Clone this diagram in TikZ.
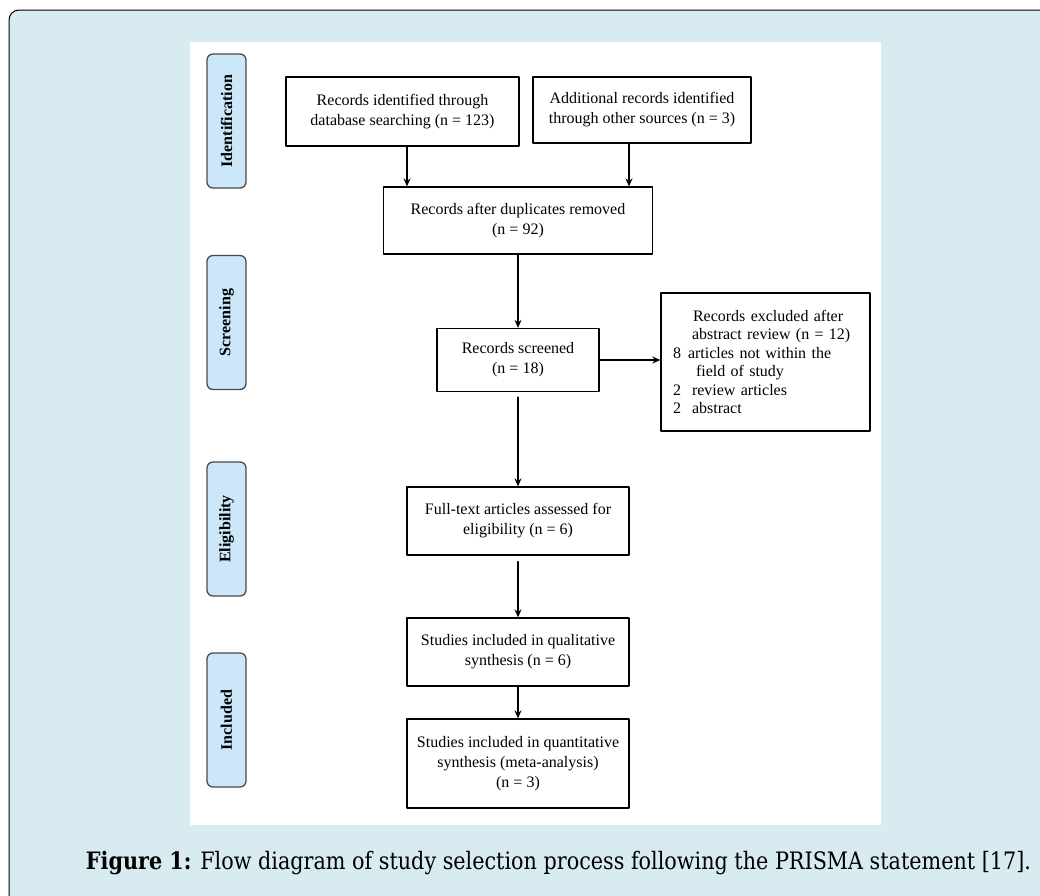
\documentclass[tikz,border=0pt]{standalone}
\usepackage{fontspec}
\usetikzlibrary{arrows.meta}
\setmainfont{Liberation Serif}
\newfontfamily\capfont{DejaVu Serif}
\definecolor{framebg}{HTML}{D7EBF0}
\definecolor{labelbg}{HTML}{CCE7F9}
\definecolor{labeledge}{HTML}{4A4A4A}
\begin{document}
\begin{tikzpicture}[x=1pt,y=-1pt,>={Stealth[length=8pt,width=7pt]},line join=round,line cap=round,
		box/.style={draw,line width=1.3pt,align=center,inner sep=2pt,font=\fontsize{16}{20}\selectfont},
		phase/.style={draw=labeledge,fill=labelbg,line width=1.3pt,rounded corners=6pt,minimum width=134pt,minimum height=39pt,rotate=90,font=\fontsize{16}{18}\selectfont\bfseries},
		link/.style={->,line width=1.6pt}]
	\useasboundingbox (0,0) rectangle (1040,895);
	\fill[white] (0,0) rectangle (1040,895);
	\draw[fill=framebg,line width=1pt,rounded corners=10pt] (9,10) rectangle (1060,915);
	\fill[white] (190,42) rectangle (881,825);
	% phases
	\node[phase] (lid) at (226.5,121) {Identification};
	\node[phase] (lscr) at (226.5,322.5) {Screening};
	\node[phase] (lelig) at (226.5,529) {Eligibility};
	\node[phase] (lincl) at (226.5,720) {Included};
	% boxes
	\node[box,minimum width=233pt,minimum height=69pt] (ident) at (402.5,111.5) {Records identified through\\database searching (n = 123)};
	\node[box,minimum width=218pt,minimum height=66pt] (other) at (642,110) {Additional records identified\\through other sources (n = 3)};
	\node[box,minimum width=269pt,minimum height=67pt] (dedup) at (518,220.5) {Records after duplicates removed\\(n = 92)};
	\node[box,minimum width=162pt,minimum height=63pt] (screen) at (518,360) {Records screened\\(n = 18)};
	\node[box,align=left,text width=185pt,inner xsep=12pt,minimum height=138pt,font=\fontsize{16}{18.5}\selectfont] (excl) at (765.5,362)
		{\hspace*{20pt}Records excluded after\\\hspace*{19pt}abstract review (n = 12)\\\makebox[15pt][l]{8}articles not within the\\\hspace*{23pt}field of study\\\makebox[19pt][l]{2}review articles\\\makebox[19pt][l]{2}abstract};
	\node[box,minimum width=222pt,minimum height=68pt] (full) at (518,521) {Full-text articles assessed for\\eligibility (n = 6)};
	\node[box,minimum width=222pt,minimum height=68pt] (qual) at (518,652) {Studies included in qualitative\\synthesis (n = 6)};
	\node[box,minimum width=222pt,minimum height=89pt] (quant) at (518,763.5) {Studies included in quantitative\\synthesis (meta-analysis)\\(n = 3)};
	% arrows
	\draw[link] ([xshift=4.5pt]ident.south) -- ([xshift=4.5pt]ident.south |- dedup.north);
	\draw[link] ([xshift=-13pt]other.south) -- ([xshift=-13pt]other.south |- dedup.north);
	\draw[link] (dedup) -- (screen);
	\draw[link] (screen) -- (screen -| excl.west);
	\draw[link,shorten <=5pt] (screen) -- (full);
	\draw[link,shorten <=6pt] (full) -- (qual);
	\draw[link] (qual) -- (quant);
	% caption
	\node[font=\fontsize{24}{27}\selectfont\capfont] (cap) at (558.5,863)
		{\resizebox{945pt}{\height}{\textbf{Figure 1:} Flow diagram of study selection process following the PRISMA statement [17].}};
\end{tikzpicture}
\end{document}
